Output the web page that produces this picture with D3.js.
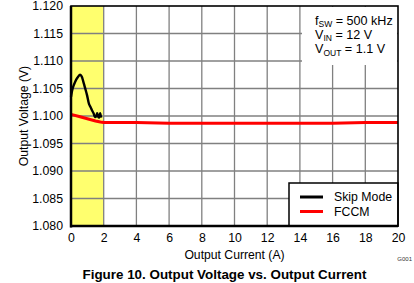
<!DOCTYPE html>
<html>
<head>
<meta charset="UTF-8">
<title>Output Voltage vs. Output Current</title>
<script src="https://d3js.org/d3.v7.min.js"></script>
<style>html,body{margin:0;padding:0;background:#fff;}svg{display:block;font-family:"Liberation Sans",Arial,sans-serif;}</style>
</head>
<body>
<div id="container"></div>
<script>
const xTicks = [0, 2, 4, 6, 8, 10, 12, 14, 16, 18, 20]
const yTicks = [1.080, 1.085, 1.090, 1.095, 1.100, 1.105, 1.110, 1.115, 1.120]

// skip mode (A, V)
const skipI = [0, 0.1, 0.25, 0.4, 0.55, 0.65, 0.74, 0.85, 0.98, 1.1, 1.2, 1.29, 1.38, 1.47, 1.55, 1.6, 1.66, 1.72, 1.78, 1.84]
const skipV = [1.1035, 1.1050, 1.1062, 1.1070, 1.1075, 1.1072, 1.1064, 1.1052, 1.1038, 1.1022, 1.1016, 1.1010, 1.1005, 1.0998, 1.1000, 1.1005, 1.0999, 1.0997, 1.1005, 1.0997]

// FCCM
const fccmI = [0, 0.5, 1, 1.5, 1.8, 2, 3, 4, 6, 8, 10, 12, 14, 16, 18, 20]
const fccmV = [1.1003, 1.0999, 1.0995, 1.0991, 1.0989, 1.0988, 1.0988, 1.0988, 1.0987, 1.0987, 1.0987, 1.0987, 1.0987, 1.0987, 1.0988, 1.0988]

const width = 414, height = 283
const marge = { top: 6, right: 16, bottom: 57, left: 71 }

const svg = d3.select("#container").append("svg")
  .attr("width", width)
  .attr("height", height)

const x = d3.scaleLinear().domain([0, 20]).range([marge.left, width - marge.right])
const y = d3.scaleLinear().domain([1.080, 1.120]).range([height - marge.bottom, marge.top])

// yellow band
svg.append("rect")
  .attr("x", x(0)).attr("y", y(1.120))
  .attr("width", x(2) - x(0)).attr("height", y(1.080) - y(1.120))
  .attr("fill", "#ffff6e")

// grid
const grid = svg.append("g").attr("stroke", "#808080").attr("stroke-width", 1.3)
grid.selectAll(".gx").data(xTicks.slice(1, -1)).enter().append("line")
  .attr("x1", d => x(d)).attr("x2", d => x(d))
  .attr("y1", y(1.120)).attr("y2", y(1.080))
grid.selectAll(".gy").data(yTicks.slice(1, -1)).enter().append("line")
  .attr("x1", x(0)).attr("x2", x(20))
  .attr("y1", d => y(d)).attr("y2", d => y(d))

// annotation box (white, covers grid)
svg.append("rect")
  .attr("x", 302).attr("y", y(1.120) + 1)
  .attr("width", x(20) - 302 - 1).attr("height", 58)
  .attr("fill", "#fff")

const annLines = [["f", "SW", " = 500 kHz"], ["V", "IN", " = 12 V"], ["V", "OUT", " = 1.1 V"]]
annLines.forEach((l, i) => {
  const t = svg.append("text").attr("x", 315).attr("y", 24.5 + i * 14.3)
    .attr("font-size", 12.6).attr("fill", "#000")
  t.append("tspan").text(l[0])
  t.append("tspan").attr("font-size", 8.5).attr("dy", 2.5).text(l[1])
  t.append("tspan").attr("dy", -2.5).text(l[2])
})

// lines
svg.append("path")
  .datum(fccmI.map((d, i) => [d, fccmV[i]]))
  .attr("d", d3.line().x(d => x(d[0])).y(d => y(d[1])))
  .attr("fill", "none")
  .attr("stroke", "#ff0000").attr("stroke-width", 3)
svg.append("path")
  .datum(skipI.map((d, i) => [d, skipV[i]]))
  .attr("d", d3.line().x(d => x(d[0])).y(d => y(d[1])).curve(d3.curveCatmullRom))
  .attr("fill", "none")
  .attr("stroke", "#000").attr("stroke-width", 2.4)

// legend
const lg = svg.append("g")
lg.append("rect")
  .attr("x", 289).attr("y", 183)
  .attr("width", x(20) - 289).attr("height", y(1.080) - 183)
  .attr("fill", "#fff").attr("stroke", "#000").attr("stroke-width", 1.5)
const legendItems = [["Skip Mode", "#000"], ["FCCM", "#ff0000"]]
legendItems.forEach((d, i) => {
  lg.append("line").attr("x1", 300).attr("x2", 323)
    .attr("y1", 197 + i * 14.5).attr("y2", 197 + i * 14.5)
    .attr("stroke", d[1]).attr("stroke-width", 3)
  lg.append("text").attr("x", 334).attr("y", 201 + i * 14.5)
    .attr("font-size", 12.3).text(d[0])
})

// frame
svg.append("rect")
  .attr("x", x(0)).attr("y", y(1.120))
  .attr("width", x(20) - x(0)).attr("height", y(1.080) - y(1.120))
  .attr("fill", "none").attr("stroke", "#000").attr("stroke-width", 1.6)
svg.append("line").attr("x1", x(0)).attr("x2", x(0)).attr("y1", y(1.120)).attr("y2", y(1.080) + 1.5)
  .attr("stroke", "#000").attr("stroke-width", 2.5)
svg.append("line").attr("x1", x(0) - 1).attr("x2", x(20)).attr("y1", y(1.080)).attr("y2", y(1.080))
  .attr("stroke", "#000").attr("stroke-width", 2.5)

// axes
const xAxis = svg.append("g")
  .attr("transform", "translate(0," + y(1.080) + ")")
  .call(d3.axisBottom(x).tickValues(xTicks).tickSize(0).tickPadding(7).tickFormat(d3.format("d")))
const yAxis = svg.append("g")
  .attr("transform", "translate(" + x(0) + ",0)")
  .call(d3.axisLeft(y).tickValues(yTicks).tickSize(0).tickPadding(8).tickFormat(d3.format(".3f")))
;[xAxis, yAxis].forEach(a => {
  a.select(".domain").remove()
  a.selectAll("text").attr("font-size", 12.3).attr("fill", "#000")
    .attr("font-family", "'Liberation Sans', Arial, sans-serif")
})

svg.append("text").attr("x", (x(0) + x(20)) / 2).attr("y", 259)
  .attr("text-anchor", "middle").attr("font-size", 12.2).text("Output Current (A)")
svg.append("text").attr("transform", "translate(28," + (y(1.1)) + ") rotate(-90)")
  .attr("text-anchor", "middle").attr("font-size", 12.2).text("Output Voltage (V)")
svg.append("text").attr("x", 412).attr("y", 261).attr("text-anchor", "end")
  .attr("font-size", 6).attr("fill", "#333").text("G001")
svg.append("text").attr("x", 224.5).attr("y", 279).attr("text-anchor", "middle")
  .attr("font-size", 13.4).attr("font-weight", "bold").text("Figure 10. Output Voltage vs. Output Current")
</script>
</body>
</html>
